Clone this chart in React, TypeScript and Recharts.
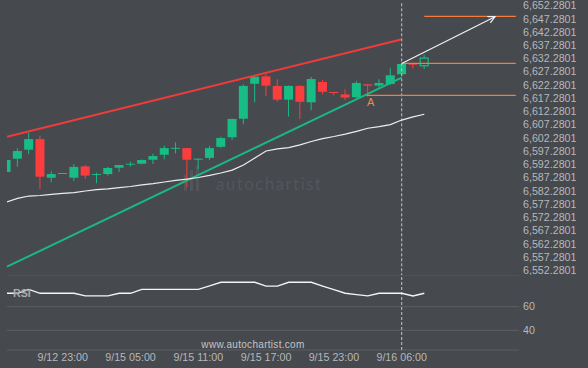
import React from 'react';
import {
  ComposedChart,
  LineChart,
  Bar,
  Line,
  XAxis,
  YAxis,
  CartesianGrid,
  ReferenceLine,
  ReferenceDot
} from 'recharts';

const BG = '#46494e';
const GREEN = '#17bd85';
const RED = '#fc3d3d';
const ORANGE = '#f47c3c';
const TEXT = '#b6b8bb';
const FONT = '"Liberation Sans", Arial, sans-serif';

// hourly candles, index 1..38
const candleIndex = [
  1, 2, 3, 4, 5, 6, 7, 8, 9, 10, 11, 12, 13, 14, 15, 16, 17, 18, 19,
  20, 21, 22, 23, 24, 25, 26, 27, 28, 29, 30, 31, 32, 33, 34, 35, 36, 37, 38
];
const opens = [
  6589.1, 6594.1, 6597.5, 6601.5, 6586.9, 6588.4, 6586.9, 6591.2, 6588.0, 6588.3,
  6590.7, 6592.0, 6592.2, 6593.7, 6595.6, 6598.0, 6598.1, 6593.9, 6594.4, 6598.6,
  6602.2, 6609.2, 6622.4, 6625.2, 6621.6, 6616.4, 6621.6, 6615.4, 6623.1, 6619.3,
  6618.4, 6617.3, 6622.2, 6621.7, 6622.3, 6626.0, 6630.0, 6629.2
];
const highs = [
  6594.0, 6598.0, 6603.9, 6602.8, 6589.3, 6588.8, 6592.0, 6591.7, 6588.8, 6591.0,
  6591.8, 6593.0, 6593.8, 6596.0, 6599.0, 6600.3, 6598.2, 6594.2, 6599.0, 6602.4,
  6609.3, 6622.2, 6625.7, 6626.0, 6624.1, 6621.8, 6621.8, 6625.0, 6623.8, 6619.4,
  6620.3, 6623.5, 6622.3, 6624.1, 6628.3, 6630.1, 6630.1, 6633.4
];
const lows = [
  6588.6, 6591.1, 6595.8, 6582.7, 6585.2, 6588.3, 6585.7, 6586.4, 6584.8, 6587.7,
  6589.1, 6591.1, 6592.0, 6592.1, 6593.9, 6596.1, 6583.5, 6590.2, 6593.6, 6598.1,
  6601.2, 6607.1, 6615.4, 6617.7, 6615.6, 6610.0, 6609.1, 6612.4, 6618.4, 6618.0,
  6616.3, 6616.9, 6617.5, 6620.9, 6622.0, 6625.9, 6628.2, 6628.0
];
const closes = [
  6593.6, 6597.0, 6601.5, 6587.3, 6588.3, 6588.7, 6591.0, 6587.7, 6588.3, 6590.6,
  6591.7, 6592.2, 6593.6, 6595.1, 6598.1, 6598.2, 6593.7, 6594.1, 6598.1, 6601.9,
  6609.1, 6621.6, 6625.1, 6621.7, 6616.4, 6621.6, 6615.6, 6624.2, 6619.4, 6619.0,
  6617.2, 6622.7, 6621.7, 6622.7, 6625.6, 6629.9, 6629.8, 6632.1
];
const maValues = [
  6577.7, 6579.1, 6580.0, 6580.2, 6580.6, 6581.0, 6581.3, 6581.9, 6582.4, 6582.7,
  6583.2, 6583.6, 6584.2, 6584.7, 6585.3, 6585.9, 6586.4, 6587.0, 6587.8, 6588.7,
  6589.8, 6591.7, 6594.4, 6597.0, 6597.8, 6598.3, 6599.3, 6600.6, 6601.7, 6602.5,
  6603.4, 6604.4, 6605.6, 6606.2, 6607.0, 6608.7, 6609.9, 6610.9
];
const rsiValues = [
  71.4, 71.4, 74.7, 71.4, 71.4, 71.4, 71.4, 69.1, 69.1, 69.2,
  71.4, 71.4, 74.7, 74.7, 74.7, 74.7, 74.7, 74.7, 77.7, 80.7,
  80.7, 80.7, 80.7, 77.5, 77.5, 80.7, 80.7, 80.7, 77.5, 74.4,
  71.4, 70.2, 69.1, 71.4, 71.4, 71.4, 69.1, 71.4
];

const timeTicks = [6, 12, 18, 24, 30, 36];
const timeLabels = ['9/12 23:00', '9/15 05:00', '9/15 11:00', '9/15 17:00', '9/15 23:00', '9/16 06:00'];

const priceTicks = [
  6552.2801, 6557.2801, 6562.2801, 6567.2801, 6572.2801, 6577.2801, 6582.2801,
  6587.2801, 6592.2801, 6597.2801, 6602.2801, 6607.2801, 6612.2801, 6617.2801,
  6622.2801, 6627.2801, 6632.2801, 6637.2801, 6642.2801, 6647.2801, 6652.2801
];
const rsiTicks = [40, 60];

// pattern lines [start, end] as {x: candle index, y: price}
const resistanceLine = [{ x: 1.07, y: 6602.4 }, { x: 35.94, y: 6639.1 }];
const supportLine = [{ x: 1.07, y: 6553.3 }, { x: 36, y: 6624.7 }];
const forecastArrow = [{ x: 36, y: 6630.1 }, { x: 44.26, y: 6647.75 }];
const targetLevel = [{ x: 38, y: 6647.9 }, { x: 46.1, y: 6647.9 }];
const entryLevel = [{ x: 36, y: 6630.1 }, { x: 46.1, y: 6630.1 }];
const supportLevel = [{ x: 32.9, y: 6618.05 }, { x: 46.1, y: 6618.05 }];
const pointA = { x: 33.25, y: 6615.6 };
const breakoutIndex = 36;

const xDomain = [1.07, 46.38];
const priceDomain = [6550.165, 6654.056];
const rsiDomain = [23.31, 86.86];

const candles = candleIndex.map((i, k) => ({
  i,
  open: opens[k],
  high: highs[k],
  low: lows[k],
  close: closes[k],
  range: [lows[k], highs[k]],
  ma: maValues[k]
}));
const rsiData = candleIndex.map((i, k) => ({ i, rsi: rsiValues[k] }));

const fmtPrice = (v: number) =>
  v.toLocaleString('en-US', { minimumFractionDigits: 4, maximumFractionDigits: 4 });
const fmtTime = (v: number) => timeLabels[timeTicks.indexOf(v)] ?? '';

const Candle = (props: any) => {
  const { x, y, width, height, payload, index } = props;
  if (!payload) return null;
  const top = Math.min(y, y + height);
  const h = Math.abs(height);
  const span = payload.high - payload.low || 1;
  const toY = (v: number) => top + ((payload.high - v) / span) * h;
  const up = payload.close >= payload.open;
  const color = up ? GREEN : RED;
  const b0 = toY(Math.max(payload.open, payload.close));
  const b1 = toY(Math.min(payload.open, payload.close));
  const cx = x + width / 2;
  const hollow = index === candleIndex.length - 1;
  return (
    <g>
      <line x1={cx} x2={cx} y1={top} y2={top + h} stroke={color} strokeWidth={1} />
      {hollow ? (
        <rect x={x + 0.5} y={b0} width={width - 1} height={Math.max(1, b1 - b0)} fill={BG} stroke={color} strokeWidth={1.2} />
      ) : (
        <rect x={x} y={b0} width={width} height={Math.max(1, b1 - b0)} fill={color} />
      )}
    </g>
  );
};

const tickStyle = { fill: TEXT, fontSize: 10.7, fontFamily: FONT };

export default function App() {
  return (
    <div
      style={{
        position: 'fixed',
        top: 0,
        left: 0,
        width: 588,
        height: 368,
        background: BG,
        overflow: 'hidden',
        fontFamily: FONT
      }}
    >
      <svg width={0} height={0} style={{ position: 'absolute' }}>
        <defs>
          <marker id="arrowHead" markerWidth={10} markerHeight={10} refX={7} refY={4} orient="auto" markerUnits="userSpaceOnUse">
            <path d="M0,0.5 L7,4 L0,7.5" fill="none" stroke="#f2f2f2" strokeWidth={1.2} />
          </marker>
        </defs>
      </svg>

      {/* watermark */}
      <div style={{ position: 'absolute', left: 184, top: 175, width: 3, height: 16, background: '#52555b' }} />
      <div style={{ position: 'absolute', left: 190, top: 170, width: 3, height: 21, background: '#52555b' }} />
      <div style={{ position: 'absolute', left: 196, top: 166, width: 3, height: 25, background: '#52555b' }} />
      <div
        style={{
          position: 'absolute',
          left: 216,
          top: 175,
          fontFamily: 'Lato, sans-serif',
          fontSize: 17,
          lineHeight: '17px',
          letterSpacing: 1.4,
          color: '#53565c'
        }}
      >
        autochartist
      </div>

      <div style={{ position: 'absolute', top: -10, left: 0 }}>
        <ComposedChart width={588} height={285} data={candles} margin={{ top: 10, right: 0, bottom: 0, left: 7 }}>
          <XAxis type="number" dataKey="i" domain={xDomain} hide height={0} allowDataOverflow />
          <YAxis
            orientation="right"
            width={69}
            domain={priceDomain}
            ticks={priceTicks}
            tickFormatter={fmtPrice}
            allowDataOverflow
            axisLine={false}
            tickLine={false}
            tickSize={0}
            tickMargin={4}
            interval={0}
            tick={{ ...tickStyle, dy: 0.8 }}
          />
          <ReferenceLine
            segment={[{ x: breakoutIndex, y: 6652.8 }, { x: breakoutIndex, y: priceDomain[0] }]}
            stroke="#c4c6c9"
            strokeDasharray="3 2"
            ifOverflow="visible"
          />
          <ReferenceLine segment={resistanceLine} stroke="#f03b3b" strokeWidth={2} ifOverflow="visible" />
          <ReferenceLine segment={supportLine} stroke="#1bb784" strokeWidth={2} ifOverflow="visible" />
          <ReferenceLine segment={targetLevel} stroke={ORANGE} strokeWidth={1.3} ifOverflow="visible" />
          <ReferenceLine segment={entryLevel} stroke={ORANGE} strokeWidth={1.3} ifOverflow="visible" />
          <ReferenceLine segment={supportLevel} stroke={ORANGE} strokeWidth={1.3} ifOverflow="visible" />
          <Line
            dataKey="ma"
            type="linear"
            stroke="#eeeeee"
            strokeWidth={1.2}
            dot={false}
            isAnimationActive={false}
          />
          <Bar dataKey="range" barSize={9} shape={<Candle />} isAnimationActive={false} />
          <ReferenceLine
            segment={forecastArrow}
            stroke="#f2f2f2"
            strokeWidth={1.2}
            markerEnd="url(#arrowHead)"
            ifOverflow="visible"
          />
          <ReferenceDot
            x={pointA.x}
            y={pointA.y}
            r={0}
            fill="none"
            stroke="none"
            ifOverflow="visible"
            label={{ value: 'A', fill: '#f08a4e', fontSize: 11, fontFamily: FONT, position: 'center' }}
          />
        </ComposedChart>
      </div>

      <div style={{ position: 'absolute', top: 275, left: 0 }}>
        <LineChart width={588} height={93} data={rsiData} margin={{ top: 0, right: 0, bottom: 0, left: 7 }}>
          <CartesianGrid vertical={false} stroke="#5c5f64" />
          <XAxis
            type="number"
            dataKey="i"
            domain={xDomain}
            ticks={timeTicks}
            tickFormatter={fmtTime}
            interval={0}
            allowDataOverflow
            height={18}
            axisLine={false}
            tickLine={false}
            tickSize={0}
            tickMargin={3}
            tick={tickStyle}
          />
          <YAxis
            orientation="right"
            width={69}
            domain={rsiDomain}
            ticks={rsiTicks}
            allowDataOverflow
            axisLine={false}
            tickLine={false}
            tickSize={0}
            tickMargin={4}
            interval={0}
            tick={tickStyle}
          />
          <ReferenceLine x={breakoutIndex} stroke="#c4c6c9" strokeDasharray="3 2" />
          <Line dataKey="rsi" type="linear" stroke="#f4f4f4" strokeWidth={1.3} dot={false} isAnimationActive={false} />
        </LineChart>
      </div>

      <div
        style={{
          position: 'absolute',
          left: 13,
          top: 287,
          fontSize: 10.7,
          lineHeight: '12px',
          color: '#a9abae',
          fontWeight: 'bold'
        }}
      >
        RSI
      </div>
      <div
        style={{
          position: 'absolute',
          left: 153,
          width: 200,
          top: 339,
          textAlign: 'center',
          fontSize: 10,
          lineHeight: '12px',
          letterSpacing: 0.3,
          color: '#c3c5c8'
        }}
      >
        www.autochartist.com
      </div>
    </div>
  );
}
